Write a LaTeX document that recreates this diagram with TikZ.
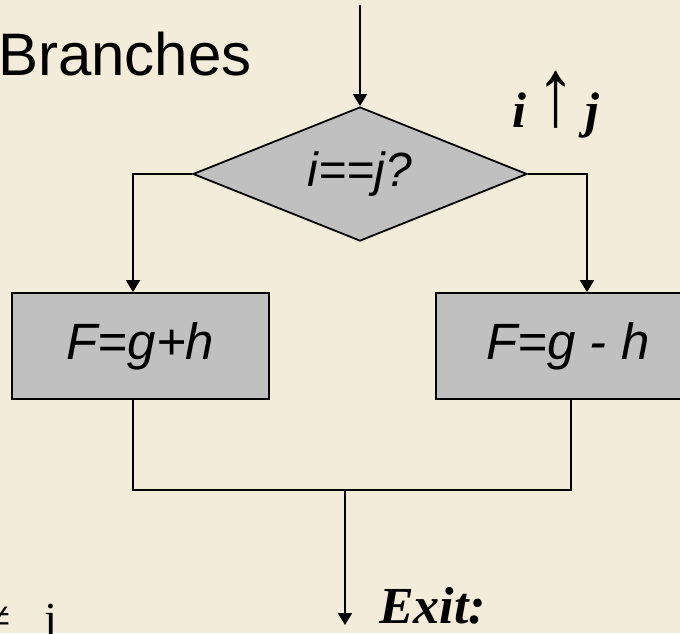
\documentclass[tikz,border=0pt]{standalone}
\usepackage{fontspec}
\setmainfont{Liberation Serif}
\setsansfont{Liberation Sans}
\usetikzlibrary{shapes.geometric,arrows.meta}
\definecolor{bg}{RGB}{244,236,218}
\definecolor{boxgray}{RGB}{192,192,192}
\begin{document}
\begin{tikzpicture}[x=1pt,y=-1pt,
  conn/.style={line width=1.8pt,line join=miter},
  arr/.style={conn,-{Triangle[width=14pt,length=12pt]}},
  proc/.style={draw,line width=1.8pt,fill=boxgray,minimum height=106pt,inner sep=0pt,
    font=\sffamily\itshape\fontsize{51}{60}\selectfont},
  decision/.style={diamond,aspect=2.5,draw,line width=1.8pt,fill=boxgray,inner sep=0pt,
    minimum width=334pt,minimum height=134pt,font=\sffamily\itshape\fontsize{48}{56}\selectfont},
  lbl/.style={inner sep=0pt,anchor=base west}]
\useasboundingbox (0,0) rectangle (680,633);
\clip (0,0) rectangle (680,633);
\fill[bg] (0,0) rectangle (680,633);

\node[proc,minimum width=257pt] (lbox) at (140.5,346) {F=g+h};
\node[proc,minimum width=264pt] (rbox) at (568,346) {F=g - h};
\node[decision] (dec) at (360,174) {i==j?};

\coordinate (top) at (360,5);
\coordinate (lturn) at (133,174);
\coordinate (rturn) at (587,174);
\coordinate (ljoin) at (133,490);
\coordinate (rjoin) at (571,490);
\coordinate (mid) at (345,490);
\coordinate (exitpt) at (345,625);

\draw[arr] (top) -- (dec.north);
\draw[arr] (dec.west) -- (lturn) -- (lturn |- lbox.north);
\draw[arr] (dec.east) -- (rturn) -- (rturn |- rbox.north);
\draw[conn] (ljoin |- lbox.south) -- (ljoin) -- (rjoin) -- (rjoin |- rbox.south);
\draw[arr] (mid) -- (exitpt);

\node[lbl,font=\sffamily\fontsize{60}{70}\selectfont] (title) at (-2,75) {Branches};
\node[lbl,font=\bfseries\itshape\fontsize{52}{60}\selectfont] (exit) at (379,623) {Exit:};
\node[lbl,font=\bfseries\itshape\fontsize{50}{60}\selectfont] (cond) at (512,127)
  {i\hspace{10pt}{\normalfont\fontsize{46}{56}\selectfont\raisebox{2pt}{\scalebox{1.7}[2.1]{↑}}}\hspace{10pt}j};
\node[lbl,font=\fontsize{46}{56}\selectfont] (neq) at (-15,634) {≠\hspace{34pt}j};
\end{tikzpicture}
\end{document}
